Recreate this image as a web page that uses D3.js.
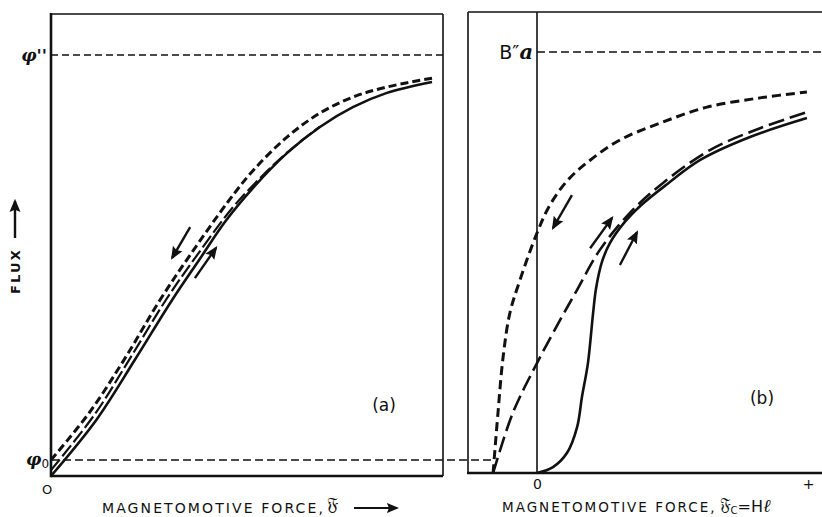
<!DOCTYPE html>
<html><head><meta charset="utf-8">
<script src="https://cdn.jsdelivr.net/npm/d3@7/dist/d3.min.js"></script>
<style>
body{margin:0;background:#fff;}
svg{display:block;}
</style></head>
<body>
<svg id="c" width="822" height="517"></svg>
<script>
// ---------- DATA (abstract units: x 0..1 along axis, y 1 = saturation reference) ----------
// Panel (a)
const phiPP = 1.0;          // φ''
const phi0 = 0.038;         // φ0
const leftSolid = [[0,0],[0.117,0.135],[0.214,0.276],[0.309,0.418],[0.380,0.516],[0.444,0.604],[0.515,0.684],[0.602,0.767],[0.686,0.829],[0.770,0.876],[0.857,0.910],[0.972,0.936]];
const leftShortDash = [[0,0.038],[0.099,0.152],[0.189,0.280],[0.278,0.418],[0.355,0.525],[0.452,0.652],[0.515,0.725],[0.602,0.805],[0.686,0.862],[0.770,0.900],[0.857,0.924],[0.972,0.945]];
const leftLongDash = [[0,0.014],[0.112,0.147],[0.202,0.280],[0.293,0.418],[0.370,0.521],[0.462,0.636],[0.538,0.712],[0.602,0.768],[0.686,0.830]];
const leftArrows = [[[0.355,0.591],[0.309,0.518]],[[0.367,0.470],[0.421,0.542]]];
// Panel (b)
const bPP = 1.0;            // B''a
const rightShortDash = [[-0.162,0],[-0.144,0.143],[-0.125,0.276],[-0.100,0.380],[-0.063,0.458],[0,0.570],[0.048,0.637],[0.114,0.696],[0.196,0.743],[0.306,0.791],[0.454,0.831],[0.627,0.869],[0.823,0.891],[0.996,0.905]];
const rightLongDash = [[-0.162,0],[-0.089,0.143],[0,0.261],[0.085,0.363],[0.148,0.435],[0.232,0.530],[0.343,0.618],[0.465,0.689],[0.638,0.767],[0.823,0.819],[0.996,0.857]];
const rightSolid = [[0,0],[0.059,0.014],[0.111,0.048],[0.148,0.109],[0.166,0.181],[0.188,0.261],[0.207,0.380],[0.218,0.439],[0.240,0.502],[0.269,0.546],[0.321,0.594],[0.384,0.636],[0.480,0.686],[0.601,0.743],[0.786,0.798],[0.996,0.843]];
const rightArrows = [[[0.129,0.660],[0.059,0.582]],[[0.196,0.534],[0.277,0.606]],[[0.306,0.494],[0.369,0.572]]];
const rightTicks = [0, 1];
const rightTickLabels = ["0", "+"];

// ---------- SCALES ----------
const xL = d3.scaleLinear().domain([0,1]).range([51,443]);
const yL = d3.scaleLinear().domain([0,1]).range([476,55]);
const xR = d3.scaleLinear().domain([0,1]).range([537,808]);
const yR = d3.scaleLinear().domain([0,1]).range([473,52]);
const xRmin = xR.invert(468), xRmax = xR.invert(830);
const yLtop = yL.invert(14), yRtop = yR.invert(12);

const svg = d3.select("#c");
svg.append("defs").append("marker")
  .attr("id","ah").attr("viewBox","0 0 12 10").attr("refX",10).attr("refY",5)
  .attr("markerWidth",5.5).attr("markerHeight",5).attr("orient","auto")
  .append("path").attr("d","M0,0 L12,5 L0,10 L2,5 Z").attr("fill","#111");

const ink = "#111";
const sans = "'DejaVu Sans',sans-serif";
const serif = "'DejaVu Serif',serif";
function ln(g, x1,y1,x2,y2,w,dash){
  const l = g.append("line").attr("x1",x1).attr("y1",y1).attr("x2",x2).attr("y2",y2)
    .attr("stroke",ink).attr("stroke-width",w);
  if(dash) l.attr("stroke-dasharray",dash);
  return l;
}

// ---------- PANEL (a) frame ----------
const gA = svg.append("g");
ln(gA, xL(0), yL(yLtop), xL(1), yL(yLtop), 1.6);
ln(gA, xL(1), yL(yLtop), xL(1), yL(0), 1.6);
ln(gA, xL(0), yL(yLtop)-1, xL(0), yL(0)+1.2, 2.6);
ln(gA, xL(0), yL(0), xL(1), yL(0), 2.6);
// reference lines
ln(gA, xL(0), yL(phiPP), xL(1), yL(phiPP), 1.3, "7,4");
ln(gA, xL(0), yL(phi0), xR(rightShortDash[0][0])+1, yL(phi0), 1.3, "8,4");

const lineL = d3.line().x(d=>xL(d[0])).y(d=>yL(d[1])).curve(d3.curveCatmullRom.alpha(0.5));
gA.append("path").attr("d",lineL(leftSolid)).attr("fill","none").attr("stroke",ink).attr("stroke-width",2.6);
gA.append("path").attr("d",lineL(leftLongDash)).attr("fill","none").attr("stroke",ink).attr("stroke-width",2.2).attr("stroke-dasharray","14,4");
gA.append("path").attr("d",lineL(leftShortDash)).attr("fill","none").attr("stroke",ink).attr("stroke-width",3).attr("stroke-dasharray","8,4");
leftArrows.forEach(a=>{
  ln(gA, xL(a[0][0]), yL(a[0][1]), xL(a[1][0]), yL(a[1][1]), 2.4).attr("marker-end","url(#ah)");
});

// labels (a)
gA.append("text").attr("x",xL(0)-4).attr("y",yL(phiPP)+6).attr("text-anchor","end")
  .attr("font-family",serif).attr("font-style","italic").attr("font-weight","bold").attr("font-size",17).attr("fill",ink).text("φ''");
const t0 = gA.append("text").attr("x",26).attr("y",yL(phi0)+5)
  .attr("font-family",serif).attr("font-style","italic").attr("font-weight","bold").attr("font-size",17).attr("fill",ink);
t0.append("tspan").text("φ");
t0.append("tspan").attr("font-style","normal").attr("font-weight","normal").attr("font-family",sans).attr("font-size",12).attr("dy",3).text("0");
gA.append("text").attr("x",xL(0)-4).attr("y",yL(0)+18).attr("text-anchor","middle")
  .attr("font-family",sans).attr("font-size",13).attr("fill",ink).text("O");
gA.append("text").attr("x",384).attr("y",411).attr("text-anchor","middle")
  .attr("font-family",sans).attr("font-size",17).attr("fill",ink).text("(a)");
// FLUX vertical
gA.append("text").attr("transform","translate(20,271) rotate(-90)").attr("text-anchor","middle")
  .attr("font-family",sans).attr("font-weight","bold").attr("font-size",13)
  .attr("letter-spacing",2.2).attr("fill",ink).text("FLUX");
ln(gA, 15, 238, 15, 201, 2.4).attr("marker-end","url(#ah)");
// bottom label (a)
gA.append("text").attr("x",102).attr("y",513)
  .attr("font-family",sans).attr("font-size",14).attr("letter-spacing",2.1).attr("fill",ink)
  .text("MAGNETOMOTIVE FORCE,");
gA.append("text").attr("x",327).attr("y",510)
  .attr("font-family",serif).attr("font-size",18).attr("fill",ink).text("𝔉");
ln(gA, 354, 508, 397, 508, 2.2).attr("marker-end","url(#ah)");

// ---------- PANEL (b) ----------
const gB = svg.append("g");
ln(gB, xR(xRmin), yR(yRtop), xR(xRmin), yR(0), 1.6);
ln(gB, xR(xRmin), yR(yRtop), xR(xRmax), yR(yRtop), 1.6);
ln(gB, xR(xRmin)-1, yR(0), xR(xRmax), yR(0), 2.6);
ln(gB, xR(0), yR(yRtop), xR(0), yR(0), 1.6);
ln(gB, xR(0), yR(bPP), xR(xRmax), yR(bPP), 1.3, "8,4");

const lineR = d3.line().x(d=>xR(d[0])).y(d=>yR(d[1])).curve(d3.curveCatmullRom.alpha(0.5));
gB.append("path").attr("d",lineR(rightSolid)).attr("fill","none").attr("stroke",ink).attr("stroke-width",2.6);
gB.append("path").attr("d",lineR(rightLongDash)).attr("fill","none").attr("stroke",ink).attr("stroke-width",2.6).attr("stroke-dasharray","16,6");
gB.append("path").attr("d",lineR(rightShortDash)).attr("fill","none").attr("stroke",ink).attr("stroke-width",3).attr("stroke-dasharray","9,5");
rightArrows.forEach(a=>{
  ln(gB, xR(a[0][0]), yR(a[0][1]), xR(a[1][0]), yR(a[1][1]), 2.4).attr("marker-end","url(#ah)");
});

// B''a label
const tb = gB.append("text").attr("x",xR(0)-4).attr("y",yR(bPP)+7).attr("text-anchor","end").attr("fill",ink);
tb.append("tspan").attr("font-family",sans).attr("font-size",19).text("B\u2033");
tb.append("tspan").attr("font-family",serif).attr("font-style","italic").attr("font-weight","bold").attr("font-size",21).text("a");

// ticks via axis
const axR = d3.axisBottom(xR).tickValues(rightTicks).tickSize(0).tickPadding(6)
  .tickFormat((d,i)=>rightTickLabels[i]);
const gAx = gB.append("g").attr("transform",`translate(0,${yR(0)})`).call(axR);
gAx.select(".domain").remove();
gAx.selectAll("text").attr("font-family",sans).attr("font-size",14).attr("fill",ink);

gB.append("text").attr("x",762).attr("y",404).attr("text-anchor","middle")
  .attr("font-family",sans).attr("font-size",17).attr("fill",ink).text("(b)");

const tl = gB.append("text").attr("x",502).attr("y",512).attr("fill",ink);
tl.append("tspan").attr("font-family",sans).attr("font-size",13.5).attr("letter-spacing",2.0).text("MAGNETOMOTIVE FORCE,");
tl.append("tspan").attr("dx",3).attr("dy",-2).attr("font-family",serif).attr("font-size",17).text("𝔉");
tl.append("tspan").attr("font-family",sans).attr("font-size",10).attr("dy",4).text("C");
tl.append("tspan").attr("font-family",sans).attr("font-size",16).attr("dy",-2).text("=H");
tl.append("tspan").attr("font-family",serif).attr("font-style","italic").attr("font-size",18).text("ℓ");
</script>
</body></html>
